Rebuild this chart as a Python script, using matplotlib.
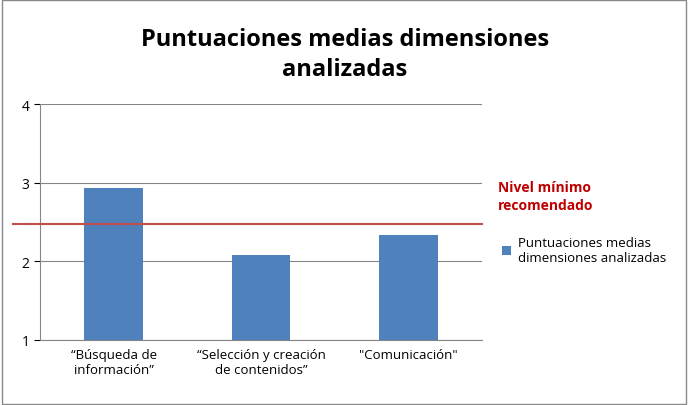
import matplotlib
matplotlib.use("Agg")
import matplotlib.pyplot as plt
from matplotlib.patches import Rectangle

categories = ["“Búsqueda de\ninformación”", "“Selección y creación\nde contenidos”", "\"Comunicación\""]
values = [2.93, 2.08, 2.34]
nivel_minimo = 2.48
yticks = [1, 2, 3, 4]

plt.rcParams['font.family'] = ['Open Sans', 'DejaVu Sans']
fig = plt.figure(figsize=(6.88, 4.06), dpi=100)
fig.patches.append(Rectangle((0.003, 0.003), 0.994, 0.994, transform=fig.transFigure,
                             fill=False, edgecolor='#888888', linewidth=1))
ax = fig.add_axes([40/688, 1-341/406, (482-40)/688, (341-105)/406])
ax.bar(range(3), values, width=0.4, color='#4F81BD', zorder=2, label="Puntuaciones medias\ndimensiones analizadas")
ax.set_xlim(-0.5, 2.5)
ax.set_ylim(1, 4)
ax.set_yticks(yticks)
ax.set_xticks(range(3))
ax.set_xticklabels(categories, fontsize=9.5)
ax.tick_params(axis='y', labelsize=10, length=4)
ax.tick_params(axis='x', length=0, pad=6)
ax.grid(axis='y', color='#868686', linewidth=0.8, zorder=0)
for s in ['top', 'right']:
    ax.spines[s].set_visible(False)
ax.spines['left'].set_color('#868686')
ax.spines['bottom'].set_color('#868686')
ax.plot([-0.6, 2.5], [nivel_minimo, nivel_minimo], color='#C0504D', linewidth=1.5,
        zorder=3, clip_on=False)
ax.axhline(nivel_minimo, color='#C0504D', linewidth=1.5, zorder=3)
fig.text(40/688 - 0.055, 1-225/406, "", fontsize=1)
ax.plot([-0.68, -0.5], [nivel_minimo]*2, color='#C0504D', linewidth=1.5, clip_on=False, zorder=3)
fig.text(498/688, 1-197/406, "Nivel mínimo\nrecomendado", color='#C00000', fontsize=10,
         fontweight='bold', va='center', ha='left', linespacing=1.4)
leg = ax.legend(loc='upper left', bbox_to_anchor=(490/688, 1-225/406), bbox_transform=fig.transFigure,
                frameon=False, fontsize=9.5, handlelength=0.7, handleheight=0.7, handletextpad=0.5)
fig.text(345/688, 1-55/406, "Puntuaciones medias dimensiones\nanalizadas", ha='center', va='center',
         fontsize=17, fontweight='bold', linespacing=1.3)
fig.savefig("out.png", dpi=100)
